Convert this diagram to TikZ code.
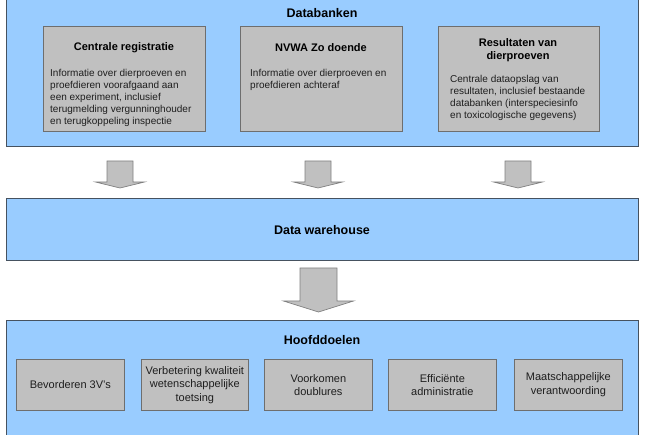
\documentclass[tikz,border=0pt]{standalone}
\usepackage{fontspec}
\setmainfont{Liberation Sans}
\definecolor{panelblue}{RGB}{153,204,255}
\definecolor{panelline}{RGB}{70,82,96}
\definecolor{boxgray}{RGB}{192,192,192}
\definecolor{boxline}{RGB}{110,110,110}
\definecolor{arrgray}{RGB}{192,192,192}
\definecolor{arrline}{RGB}{128,128,128}
\definecolor{bodytext}{RGB}{30,30,30}
\begin{document}
\begin{tikzpicture}[x=1pt,y=-1pt,
  panel/.style={draw=panelline, fill=panelblue, line width=0.8pt, inner sep=0pt, anchor=north west},
  graybox/.style={draw=boxline, fill=boxgray, line width=0.7pt, inner sep=0pt, anchor=north west},
  ptitle/.style={font=\fontsize{12.5}{15}\selectfont\bfseries, inner sep=0pt},
  btitle/.style={font=\fontsize{11}{13}\selectfont\bfseries, align=center, inner sep=0pt},
  body/.style={font=\fontsize{10}{12}\selectfont, text=bodytext, align=left, anchor=north west, inner sep=0pt},
  goal/.style={font=\fontsize{11}{13.5}\selectfont, text=bodytext, align=center, inner sep=0pt},
  blockarr/.style={draw=arrline, fill=arrgray, line width=0.7pt, line join=miter}]
\useasboundingbox (0,0) rectangle (650,435);

% --- Databanken panel
\node[panel, minimum width=632pt, minimum height=148pt] (db) at (6,-2) {};
\node[ptitle] (dbt) at (322,13) {Databanken};

\node[graybox, minimum width=162pt, minimum height=105pt] (b1) at (43,26) {};
\node[btitle] (b1t) at (124,48) {Centrale registratie};
\node[body] (b1b) at (50,69.5) {Informatie over dierproeven en\\proefdieren voorafgaand aan\\een experiment, inclusief\\terugmelding vergunninghouder\\en terugkoppeling inspectie};

\node[graybox, minimum width=162pt, minimum height=105pt] (b2) at (240,26) {};
\node[btitle] (b2t) at (321,48) {NVWA Zo doende};
\node[body] (b2b) at (250,69.5) {Informatie over dierproeven en\\proefdieren achteraf};

\node[graybox, minimum width=161pt, minimum height=105pt] (b3) at (438,26) {};
\node[btitle] (b3t) at (518,50.5) {Resultaten van\\dierproeven};
\node[body] (b3b) at (450,75) {Centrale dataopslag van\\resultaten, inclusief bestaande\\databanken (interspeciesinfo\\en toxicologische gegevens)};

% --- small arrows
\foreach \cx/\nm in {120/a1,318/a2,518/a3}{
  \draw[blockarr] (\cx-13,161) -- (\cx+13,161) -- (\cx+13,182) -- (\cx+24.5,182)
     -- (\cx,188) -- (\cx-24.5,182) -- (\cx-13,182) -- cycle;
}

% --- Data warehouse panel
\node[panel, minimum width=632pt, minimum height=62pt] (dw) at (6,198) {};
\node[ptitle] (dwt) at (322,230) {Data warehouse};

% --- big arrow
\draw[blockarr] (300,268) -- (337,268) -- (337,301) -- (353.5,301) -- (318.5,312)
   -- (283.5,301) -- (300,301) -- cycle;

% --- Hoofddoelen panel
\node[panel, minimum width=632pt, minimum height=120pt] (hd) at (6,320) {};
\node[ptitle] (hdt) at (322,340) {Hoofddoelen};

\node[graybox, minimum width=108pt, minimum height=51pt] (g1) at (16,359) {};
\node[goal] at (g1.center) (g1t) {Bevorderen 3V’s};
\node[graybox, minimum width=107pt, minimum height=51pt] (g2) at (141,359) {};
\node[goal] at (g2.center) (g2t) {Verbetering kwaliteit\\wetenschappelijke\\toetsing};
\node[graybox, minimum width=108pt, minimum height=51pt] (g3) at (264,359) {};
\node[goal] at (g3.center) (g3t) {Voorkomen\\doublures};
\node[graybox, minimum width=108pt, minimum height=51pt] (g4) at (388,359) {};
\node[goal] at (g4.center) (g4t) {Efficiënte\\administratie};
\node[graybox, minimum width=108pt, minimum height=51pt] (g5) at (514,359) {};
\node[goal] at (g5.center) (g5t) {Maatschappelijke\\verantwoording};
\end{tikzpicture}
\end{document}
